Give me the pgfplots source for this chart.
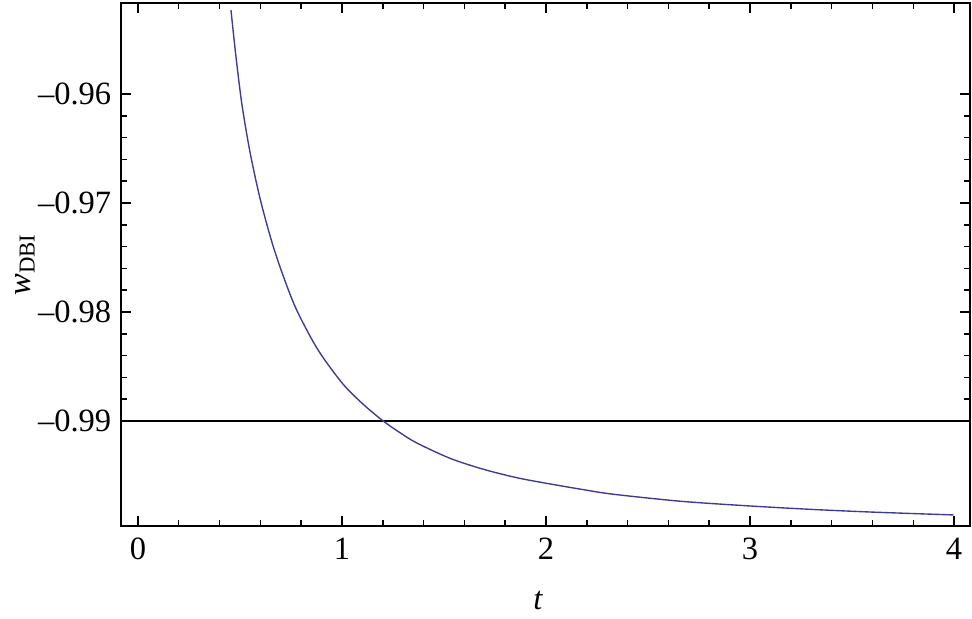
\documentclass[border=0pt]{standalone}
\usepackage{fontspec}
\setmainfont{Liberation Serif}
\usepackage{pgfplots}
\pgfplotsset{compat=1.18}
\definecolor{mmablue}{RGB}{62,58,150}

\begin{document}
\begin{tikzpicture}
\begin{axis}[
    scale only axis,
    width=339.6pt, height=209pt,
    xmin=-0.083, xmax=4.078,
    ymin=-0.99959, ymax=-0.95165,
    axis line style={line width=0.8pt},
    tick align=inside,
    major tick length=4pt, minor tick length=2.4pt,
    every tick/.style={black, line width=0.6pt},
    xtick={0,1,2,3,4}, xticklabels={0,1,2,3,4},
    ytick={-0.99,-0.98,-0.97,-0.96},
    yticklabels={–0.99,–0.98,–0.97,–0.96},
    minor x tick num=4, minor y tick num=4,
    tick label style={font=\fontsize{13}{15}\selectfont},
    xticklabel style={yshift=-1.5pt},
    yticklabel style={xshift=-0.4pt},
    xlabel={\itshape t},
    ylabel={{\itshape w}\textsubscript{DBI}},
    label style={font=\fontsize{13}{15}\selectfont},
    xlabel style={at={(axis description cs:0.5,0)}, anchor=center, yshift=-30.2pt, xshift=-3pt},
    ylabel style={at={(axis description cs:0,0.5)}, anchor=center, rotate=0, yshift=38.4pt},
]
\addplot[black, line width=0.6pt] coordinates {(-0.083,-0.99) (4.078,-0.99)};
\addplot[mmablue, line width=0.55pt, smooth] coordinates {
(0.456,-0.9523) (0.480,-0.9565) (0.510,-0.9610) (0.550,-0.9654)
(0.600,-0.9697) (0.660,-0.9738) (0.720,-0.9771) (0.780,-0.9799)
(0.880,-0.9834) (1.000,-0.9865) (1.100,-0.9884) (1.200,-0.98997)
(1.284,-0.99107) (1.365,-0.99200) (1.529,-0.99342) (1.693,-0.99443)
(1.856,-0.99520) (2.003,-0.99572) (2.183,-0.99630) (2.330,-0.99672)
(2.657,-0.99736) (2.984,-0.99778) (3.300,-0.99811) (3.600,-0.99836)
(3.997,-0.99862)};
\end{axis}
\pgfresetboundingbox
\path (current axis.south west) ++(-48.4pt,-37pt) rectangle ([shift={(0.8pt,1.2pt)}]current axis.north east);
\end{tikzpicture}
\end{document}
